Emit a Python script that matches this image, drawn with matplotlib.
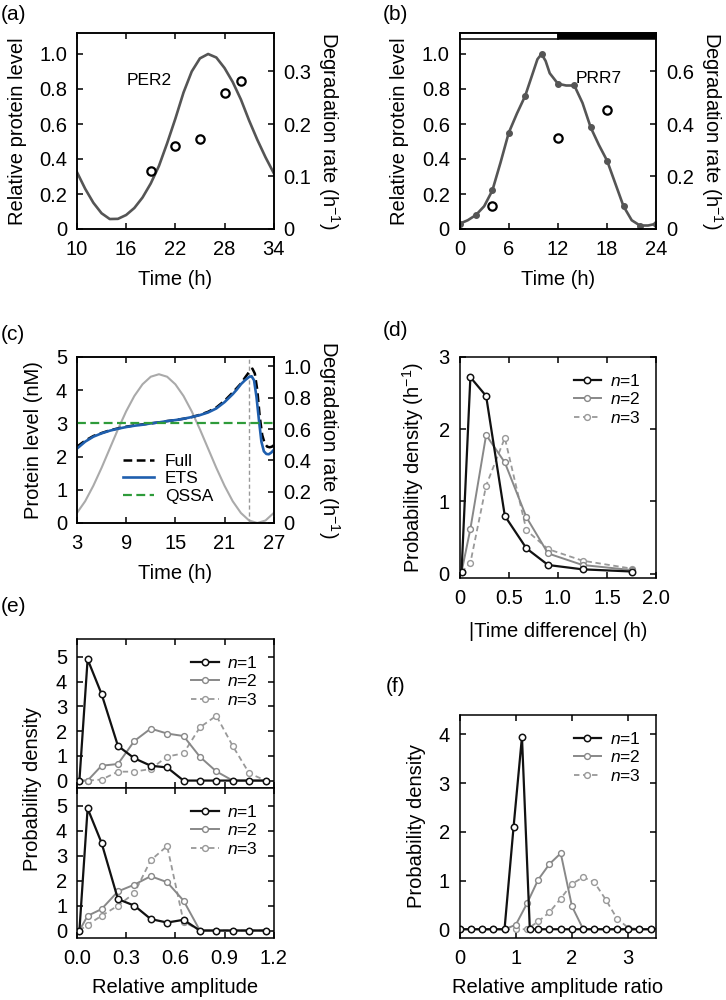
import matplotlib
matplotlib.use('Agg')
import matplotlib.pyplot as plt
from matplotlib.patches import Rectangle

plt.rcParams['font.family'] = ['Liberation Sans', 'DejaVu Sans']
plt.rcParams['mathtext.fontset'] = 'custom'
plt.rcParams['mathtext.rm'] = 'Liberation Sans'
plt.rcParams['mathtext.it'] = 'Liberation Sans:italic'
plt.rcParams['font.size'] = 14.5
plt.rcParams['axes.linewidth'] = 1.1
plt.rcParams['xtick.direction'] = 'in'
plt.rcParams['ytick.direction'] = 'in'
plt.rcParams['xtick.major.size'] = 4
plt.rcParams['ytick.major.size'] = 4
plt.rcParams['xtick.major.width'] = 1.1
plt.rcParams['ytick.major.width'] = 1.1
plt.rcParams['xtick.major.pad'] = 8
plt.rcParams['ytick.major.pad'] = 7

# ---- (a) PER2 ----
per2_t = [10, 11, 12, 13, 14, 15, 16, 17, 18, 19, 20, 21, 22, 23, 24, 25, 26, 27, 28, 29, 30, 31, 32, 33, 34]
per2_level = [0.325, 0.23, 0.15, 0.09, 0.057, 0.058, 0.08, 0.12, 0.18, 0.26, 0.36, 0.49, 0.63, 0.78, 0.9,
              0.975, 1.0, 0.98, 0.92, 0.84, 0.74, 0.62, 0.51, 0.41, 0.32]
per2_deg_t = [19, 22, 25, 28, 30]
per2_deg = [0.111, 0.159, 0.171, 0.259, 0.281]

# ---- (b) PRR7 ----
prr7_dot_t = [0, 2, 4, 6, 8, 10, 12, 14, 16, 18, 20, 22, 24]
prr7_dot = [0.03, 0.08, 0.22, 0.55, 0.76, 1.0, 0.83, 0.82, 0.58, 0.39, 0.13, 0.02, 0.03]
prr7_curve_t = [0, 1, 2, 3, 4, 5, 6, 7, 8, 9, 9.5, 10, 10.5, 11, 12, 13, 14, 15, 16, 17, 18, 19, 20, 21, 22, 23, 24]
prr7_curve = [0.03, 0.05, 0.08, 0.13, 0.22, 0.38, 0.55, 0.66, 0.76, 0.9, 0.97, 1.0, 0.96, 0.89, 0.83, 0.82,
              0.82, 0.72, 0.58, 0.48, 0.39, 0.26, 0.13, 0.05, 0.02, 0.02, 0.03]
prr7_deg_t = [4, 12, 18]
prr7_deg = [0.087, 0.347, 0.453]
light_dark = [(0, 12, 'white'), (12, 24, 'black')]

# ---- (c) model comparison ----
deg_t = [3, 4, 5, 6, 7, 8, 9, 10, 11, 12, 13, 14, 15, 16, 17, 18, 19, 20, 21, 22, 23, 24, 25, 26, 27]
deg_rate = [0.064, 0.139, 0.238, 0.352, 0.475, 0.598, 0.713, 0.811, 0.886, 0.934, 0.95, 0.934, 0.886, 0.811,
            0.713, 0.598, 0.475, 0.352, 0.238, 0.139, 0.064, 0.016, 0.0, 0.016, 0.064]
ets_t = [3, 4, 5, 6, 7, 8, 9, 10, 11, 12, 13, 14, 15, 16, 17, 18, 19, 20, 21, 22, 22.5, 23, 23.5, 24, 24.3,
         24.6, 24.9, 25.2, 25.5, 25.8, 26.1, 26.4, 26.7, 27]
ets_p = [2.24, 2.45, 2.6, 2.7, 2.78, 2.84, 2.89, 2.93, 2.96, 3.0, 3.03, 3.07, 3.1, 3.14, 3.19, 3.25, 3.33,
         3.45, 3.64, 3.88, 4.02, 4.18, 4.3, 4.4, 4.42, 4.3, 3.8, 3.1, 2.45, 2.16, 2.08, 2.07, 2.12, 2.2]
full_t = [3, 4, 5, 6, 7, 8, 9, 10, 11, 12, 13, 14, 15, 16, 17, 18, 19, 20, 21, 22, 23, 23.5, 24, 24.4, 24.7,
          25.0, 25.3, 25.6, 25.9, 26.2, 26.5, 26.8, 27]
full_p = [2.3, 2.48, 2.62, 2.71, 2.79, 2.85, 2.9, 2.94, 2.97, 3.0, 3.03, 3.07, 3.1, 3.14, 3.19, 3.26, 3.35,
          3.48, 3.68, 3.93, 4.2, 4.38, 4.55, 4.65, 4.5, 4.0, 3.2, 2.65, 2.4, 2.3, 2.28, 2.3, 2.35]
qssa_t = [3, 27]
qssa_p = [3.0, 3.0]
t_mark = 24

# ---- (d) time difference ----
td_x = [0.02, 0.11, 0.27, 0.46, 0.68, 0.9, 1.25, 1.75]
td_n1 = [0.02, 2.72, 2.46, 0.8, 0.35, 0.12, 0.06, 0.03]
td_n2 = [0.02, 0.62, 1.92, 1.54, 0.78, 0.28, 0.12, 0.05]
td_n3 = [0.02, 0.15, 1.22, 1.88, 0.6, 0.34, 0.18, 0.07]

# ---- (e) relative amplitude ----
amp_x = [0.015, 0.065, 0.15, 0.25, 0.35, 0.45, 0.55, 0.65, 0.75, 0.85, 0.95, 1.05, 1.15]
amp_top_n1 = [0, 4.9, 3.5, 1.4, 0.9, 0.6, 0.53, 0, 0, 0, 0, 0, 0]
amp_top_n2 = [0, 0, 0.6, 0.67, 1.6, 2.1, 1.9, 1.8, 0.96, 0.37, 0, 0, 0]
amp_top_n3 = [0, 0, 0.04, 0.36, 0.36, 0.47, 0.97, 1.1, 2.15, 2.62, 1.4, 0.3, 0]
amp_bot_n1 = [0, 4.9, 3.52, 1.26, 1.0, 0.46, 0.32, 0.43, 0, 0, 0, 0, 0]
amp_bot_n2 = [0, 0.59, 0.86, 1.57, 1.84, 2.18, 1.94, 1.2, 0, 0, 0, 0, 0]
amp_bot_n3 = [0, 0.23, 0.59, 1.0, 1.5, 2.82, 3.39, 0.36, 0, 0, 0, 0, 0]

# ---- (f) relative amplitude ratio ----
ratio_x = [0, 0.2, 0.4, 0.6, 0.8, 1.0, 1.2, 1.4, 1.6, 1.8, 2.0, 2.2, 2.4, 2.6, 2.8, 3.0, 3.2, 3.4]
ratio_n1_x = [0, 0.2, 0.4, 0.6, 0.8, 0.96, 1.11, 1.25, 1.4, 1.6, 1.8, 2.0, 2.2, 2.4, 2.6, 2.8, 3.0, 3.2, 3.4]
ratio_n1 = [0, 0, 0, 0, 0, 2.09, 3.95, 0, 0, 0, 0, 0, 0, 0, 0, 0, 0, 0, 0]
ratio_n2 = [0, 0, 0, 0, 0, 0.09, 0.53, 1.02, 1.34, 1.56, 0.47, 0, 0, 0, 0, 0, 0, 0]
ratio_n3 = [0, 0, 0, 0, 0, 0, 0, 0.16, 0.35, 0.63, 0.93, 1.07, 0.96, 0.61, 0.22, 0.03, 0, 0]

deg_label = 'Degradation rate (h$^{-1}$)'
n_labels = ['$n$=1', '$n$=2', '$n$=3']
dark = '#555555'


def box_ticks(ax, right=True):
    ax.tick_params(top=True, right=right)


def style_n(ax, x1, y1, x2, y2, x3, y3):
    ax.plot(x3, y3, color='#999999', lw=1.3, ls=(0, (3, 2)), marker='o', ms=4.2,
            mfc='white', mec='#999999', mew=1.0, label=n_labels[2])
    ax.plot(x2, y2, color='#888888', lw=1.4, marker='o', ms=4.2,
            mfc='white', mec='#888888', mew=1.0, label=n_labels[1])
    ax.plot(x1, y1, color='#111111', lw=1.6, marker='o', ms=4.6,
            mfc='white', mec='#111111', mew=1.1, label=n_labels[0])
    h, l = ax.get_legend_handles_labels()
    ax.legend(h[::-1], l[::-1], loc='upper right', frameon=False, fontsize=12.5,
              handlelength=1.6, handletextpad=0.5, labelspacing=0.15,
              borderaxespad=0.5)


fig = plt.figure(figsize=(7.26, 10), dpi=100)

# (a)
ax = fig.add_axes([0.106, 0.771, 0.271, 0.196])
ax.plot(per2_t, per2_level, color=dark, lw=1.9)
ax.set_xlim(10, 34)
ax.set_ylim(0, 1.12)
ax.set_xticks([10, 16, 22, 28, 34])
ax.set_yticks([0, 0.2, 0.4, 0.6, 0.8, 1.0])
ax.set_yticklabels(['0', '0.2', '0.4', '0.6', '0.8', '1.0'])
ax.set_xlabel('Time (h)', labelpad=8)
ax.set_ylabel('Relative protein level', labelpad=9)
ax.text(16, 0.85, 'PER2', fontsize=12.5, va='center')
ax.tick_params(top=True)
ax2 = ax.twinx()
ax2.plot(per2_deg_t, per2_deg, 'o', ms=6, mfc='white', mec='black', mew=1.6)
ax2.set_ylim(0, 1.12 / 3)
ax2.set_yticks([0, 0.1, 0.2, 0.3])
ax2.set_yticklabels(['0', '0.1', '0.2', '0.3'])
ax2.set_ylabel(deg_label, rotation=270, labelpad=22)

# (b)
ax = fig.add_axes([0.633, 0.771, 0.271, 0.196])
ax.plot(prr7_curve_t, prr7_curve, color=dark, lw=1.9)
ax.plot(prr7_dot_t, prr7_dot, 'o', ms=4, color=dark)
for x0, x1, c in light_dark:
    ax.add_patch(Rectangle((x0, 0.97), x1 - x0, 0.03, transform=ax.get_xaxis_transform(),
                           facecolor=c, edgecolor='black', lw=1.1, clip_on=False, zorder=5))
ax.set_xlim(0, 24)
ax.set_ylim(0, 1.12)
ax.set_xticks([0, 6, 12, 18, 24])
ax.set_yticks([0, 0.2, 0.4, 0.6, 0.8, 1.0])
ax.set_yticklabels(['0', '0.2', '0.4', '0.6', '0.8', '1.0'])
ax.set_xlabel('Time (h)', labelpad=8)
ax.set_ylabel('Relative protein level', labelpad=9)
ax.text(14.2, 0.86, 'PRR7', fontsize=12.5, va='center')
ax.tick_params(top=True)
ax2 = ax.twinx()
ax2.plot(prr7_deg_t, prr7_deg, 'o', ms=6, mfc='white', mec='black', mew=1.6)
ax2.set_ylim(0, 1.12 / 1.5)
ax2.set_yticks([0, 0.2, 0.4, 0.6])
ax2.set_yticklabels(['0', '0.2', '0.4', '0.6'])
ax2.set_ylabel(deg_label, rotation=270, labelpad=22)

# (c)
ax = fig.add_axes([0.106, 0.477, 0.271, 0.166])
ax2 = ax.twinx()
ax2.plot(deg_t, deg_rate, color='#aaaaaa', lw=1.5)
ax2.set_ylim(0, 1.06)
ax2.set_yticks([0, 0.2, 0.4, 0.6, 0.8, 1.0])
ax2.set_yticklabels(['0', '0.2', '0.4', '0.6', '0.8', '1.0'])
ax2.set_ylabel(deg_label, rotation=270, labelpad=22)
ax.set_zorder(ax2.get_zorder() + 1)
ax.patch.set_visible(False)
ax.axvline(t_mark, color='#999999', lw=1.0, ls=(0, (3, 2)))
ax.plot(full_t, full_p, color='black', lw=1.8, ls=(0, (3.5, 1.8)), label='Full')
ax.plot(ets_t, ets_p, color='#1f5fae', lw=1.9, label='ETS')
ax.plot(qssa_t, qssa_p, color='#2e9b3a', lw=1.6, ls=(0, (4, 2)), label='QSSA')
ax.set_xlim(3, 27)
ax.set_ylim(0, 5)
ax.set_xticks([3, 9, 15, 21, 27])
ax.set_yticks([0, 1, 2, 3, 4, 5])
ax.set_xlabel('Time (h)', labelpad=8)
ax.set_ylabel('Protein level (nM)', labelpad=9)
ax.tick_params(top=True)
ax.legend(loc='upper left', bbox_to_anchor=(0.2, 0.46), frameon=False, fontsize=12.5,
          handlelength=1.8, handletextpad=0.6, labelspacing=0.15, borderaxespad=0)

# (d)
ax = fig.add_axes([0.633, 0.422, 0.271, 0.221])
style_n(ax, td_x, td_n1, td_x, td_n2, td_x, td_n3)
ax.set_xlim(0, 2.0)
ax.set_ylim(-0.06, 3)
ax.set_xticks([0, 0.5, 1.0, 1.5, 2.0])
ax.set_xticklabels(['0', '0.5', '1.0', '1.5', '2.0'])
ax.set_yticks([0, 1, 2, 3])
ax.set_xlabel('|Time difference| (h)', labelpad=10)
ax.set_ylabel('Probability density (h$^{-1}$)', labelpad=9)
box_ticks(ax)

# (e)
ax_top = fig.add_axes([0.106, 0.212, 0.271, 0.149])
ax_bot = fig.add_axes([0.106, 0.062, 0.271, 0.150])
style_n(ax_top, amp_x, amp_top_n1, amp_x, amp_top_n2, amp_x, amp_top_n3)
style_n(ax_bot, amp_x, amp_bot_n1, amp_x, amp_bot_n2, amp_x, amp_bot_n3)
for a in [ax_top, ax_bot]:
    a.set_xlim(0, 1.2)
    a.set_ylim(-0.3, 5.72)
    a.set_xticks([0, 0.3, 0.6, 0.9, 1.2])
    a.set_yticks([0, 1, 2, 3, 4, 5])
    box_ticks(a)
ax_top.tick_params(labelbottom=False)
ax_bot.set_xticklabels(['0.0', '0.3', '0.6', '0.9', '1.2'])
ax_bot.set_xlabel('Relative amplitude', labelpad=7)
fig.text(0.045, 0.211, 'Probability density', rotation=90, ha='center', va='center')

# (f)
ax = fig.add_axes([0.633, 0.062, 0.271, 0.223])
style_n(ax, ratio_n1_x, ratio_n1, ratio_x, ratio_n2, ratio_x, ratio_n3)
ax.set_xlim(0, 3.5)
ax.set_ylim(-0.18, 4.4)
ax.set_xticks([0, 1, 2, 3])
ax.set_yticks([0, 1, 2, 3, 4])
ax.set_xlabel('Relative amplitude ratio', labelpad=7)
ax.set_ylabel('Probability density', labelpad=9)
box_ticks(ax)

# panel letters
for x, y, s in [(0.018, 0.985, '(a)'), (0.545, 0.985, '(b)'), (0.018, 0.665, '(c)'),
                (0.545, 0.67, '(d)'), (0.018, 0.393, '(e)'), (0.545, 0.313, '(f)')]:
    fig.text(x, y, s, fontsize=15, ha='center', va='center')

fig.savefig('out.png', dpi=100)
